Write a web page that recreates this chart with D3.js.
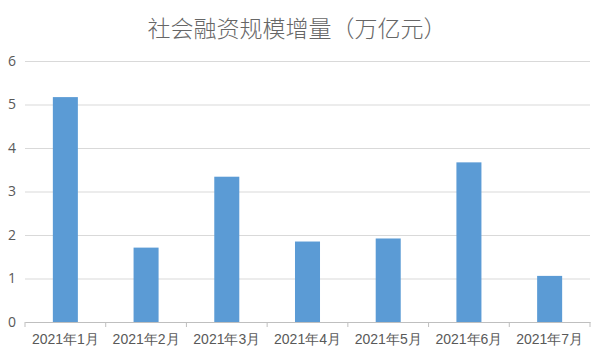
<!DOCTYPE html>
<html><head><meta charset="utf-8">
<script src="https://cdn.jsdelivr.net/npm/d3@7"></script>
<style>body{margin:0;background:#fff;} svg{display:block;font-family:"Noto Sans CJK SC","Noto Sans",sans-serif;}</style>
</head><body>
<script>
const title = "社会融资规模增量（万亿元）";
const categories = ["2021年1月","2021年2月","2021年3月","2021年4月","2021年5月","2021年6月","2021年7月"];
const values = [5.17, 1.71, 3.34, 1.85, 1.92, 3.67, 1.06];
const yTicks = [0,1,2,3,4,5,6];

const W = 600, H = 358;
const svg = d3.select("body").append("svg").attr("width", W).attr("height", H);
const x = d3.scaleBand().domain(categories).range([25, 590]).paddingInner(0.69).paddingOuter(0.345);
const y = d3.scaleLinear().domain([0, 6]).range([322, 61]);

svg.append("text").attr("x", 297).attr("y", 37).attr("text-anchor", "middle")
  .attr("font-size", 23).attr("font-weight", 300).attr("fill", "#666666").text(title);

const grid = svg.append("g").attr("transform", "translate(25,0)")
  .call(d3.axisLeft(y).tickValues(yTicks).tickSize(-565).tickFormat(d3.format("d")));
grid.select(".domain").remove();
grid.selectAll(".tick line").attr("stroke", "#d9d9d9").attr("stroke-width", 1);
grid.selectAll(".tick text").attr("x", -9).attr("font-size", 14).attr("fill", "#595959")
  .attr("font-family", "'Open Sans','DejaVu Sans',sans-serif");

svg.append("g").selectAll("rect").data(values).join("rect")
  .attr("x", (d, i) => x(categories[i])).attr("width", x.bandwidth())
  .attr("y", d => y(d)).attr("height", d => y(0) - y(d)).attr("fill", "#5b9bd5");

const xa = svg.append("g").attr("transform", "translate(0,322)")
  .call(d3.axisBottom(x).tickSize(0).tickPadding(12));
xa.select(".domain").attr("stroke", "#bfbfbf");
xa.selectAll(".tick text").attr("font-size", 14).attr("fill", "#595959");
const step = x.step();
const bounds = d3.range(categories.length + 1).map(i => 25 + i * step);
svg.append("g").selectAll("line").data(bounds).join("line")
  .attr("x1", d => d).attr("x2", d => d).attr("y1", 322).attr("y2", 327)
  .attr("stroke", "#bfbfbf");
</script>
</body></html>
